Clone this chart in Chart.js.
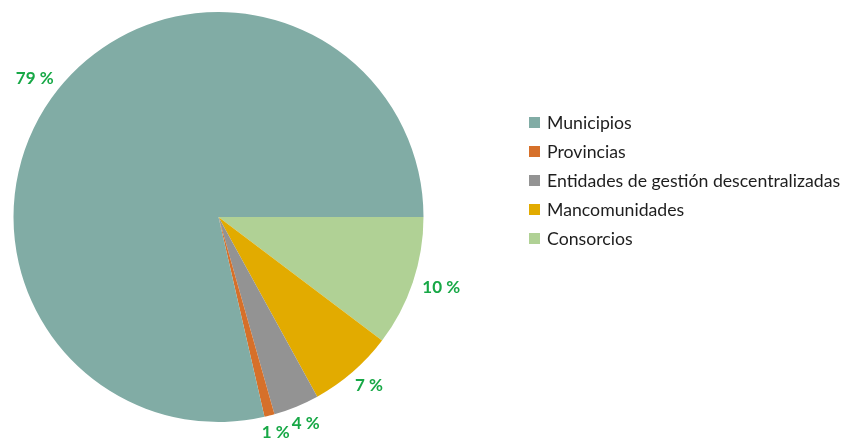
<!DOCTYPE html>
<html>
<head>
<meta charset="utf-8">
<script src="https://cdn.jsdelivr.net/npm/chart.js@4.4.1/dist/chart.umd.min.js"></script>
<style>
  body { margin: 0; background: #fff; }
  #wrap { position: relative; width: 846px; height: 441px; }
  #leyenda { position: absolute; left: 529px; top: 111px; font-family: Lato, sans-serif; font-size: 17.7px; color: #1e1e1e; }
  #leyenda div { height: 29px; line-height: 24px; white-space: nowrap; }
  #leyenda span { display: inline-block; width: 11px; height: 11px; margin-right: 7px; vertical-align: 1px; }
</style>
</head>
<body>
<div id="wrap">
  <canvas id="grafico" width="846" height="441"></canvas>
  <div id="leyenda"></div>
</div>
<script>
// datos en el orden de la leyenda
const categorias = ['Municipios', 'Provincias', 'Entidades de gestión descentralizadas', 'Mancomunidades', 'Consorcios'];
const porcentajes = [78.6, 0.8, 3.6, 6.7, 10.3];
const etiquetas = ['79 %', '1 %', '4 %', '7 %', '10 %'];
const colores = ['#81aca5', '#d6702a', '#939393', '#e2ab00', '#b0d195'];

// leyenda
const leyenda = document.getElementById('leyenda');
categorias.forEach((cat, i) => {
    const fila = document.createElement('div');
    fila.innerHTML = '<span style="background:' + colores[i] + '"></span>' + cat;
    leyenda.appendChild(fila);
});

// la tarta va en sentido antihorario desde las 3, así que se invierte el orden
const orden = categorias.map((_, i) => i).reverse();

const etiquetasFuera = {
    id: 'etiquetasFuera',
    afterDraw(chart) {
        const ctx = chart.ctx;
        const arcos = chart.getDatasetMeta(0).data;
        ctx.save();
        ctx.font = 'bold 17px Lato, sans-serif';
        ctx.fillStyle = '#17a846';
        ctx.textAlign = 'center';
        ctx.textBaseline = 'middle';
        arcos.forEach((arco, i) => {
            const medio = (arco.startAngle + arco.endAngle) / 2;
            const cos = Math.cos(medio), sin = Math.sin(medio);
            const r = arco.outerRadius + 11;
            const texto = etiquetas[orden[i]];
            const w = ctx.measureText(texto).width;
            const x = arco.x + r * cos + (w / 2) * cos;
            const y = arco.y + r * sin + 7 * sin;
            ctx.fillText(texto, x, y);
        });
        ctx.restore();
    }
};

new Chart(document.getElementById('grafico'), {
    type: 'pie',
    data: {
        labels: orden.map(i => categorias[i]),
        datasets: [{
            data: orden.map(i => porcentajes[i]),
            backgroundColor: orden.map(i => colores[i]),
            borderWidth: 0
        }]
    },
    options: {
        responsive: false,
        animation: false,
        rotation: 90,
        layout: { padding: { left: 13, top: 12, bottom: 19, right: 422 } },
        plugins: {
            legend: { display: false },
            tooltip: { enabled: false }
        }
    },
    plugins: [etiquetasFuera]
});
</script>
</body>
</html>
